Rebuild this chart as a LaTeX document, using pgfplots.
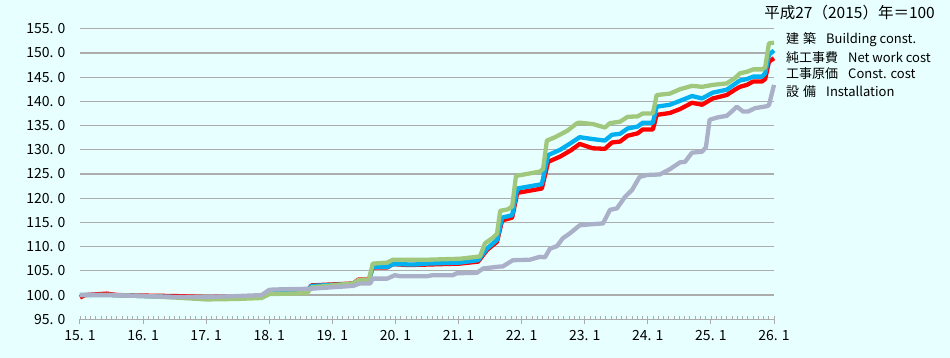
\documentclass[border=0pt]{standalone}
\usepackage{fontspec}
\setmainfont{Noto Sans CJK JP}
\newfontfamily\jpfont{Noto Sans CJK JP}
\usepackage{pgfplots}
\pgfplotsset{compat=1.18}
\definecolor{bgc}{RGB}{232,255,255}
\definecolor{gridc}{RGB}{172,172,172}
\definecolor{cgreen}{RGB}{160,200,125}
\definecolor{cblue}{RGB}{0,176,240}
\definecolor{cred}{RGB}{255,0,0}
\definecolor{cgray}{RGB}{170,176,200}
\begin{document}
\begin{tikzpicture}
\fill[bgc] (0,0) rectangle (950pt,358pt);
\useasboundingbox (0,0) rectangle (950pt,358pt);
\begin{axis}[
  at={(80pt,38.7pt)}, anchor=south west,
  scale only axis, width=694pt, height=290.6pt,
  xmin=15, xmax=26, ymin=95, ymax=155,
  clip=false,
  axis x line*=bottom, axis y line*=left,
  x axis line style={draw=gridc, line width=1.2pt, -},
  y axis line style={draw=none},
  ytick={95,100,...,155},
  yticklabels={95. 0,100. 0,105. 0,110. 0,115. 0,120. 0,125. 0,130. 0,135. 0,140. 0,145. 0,150. 0,155. 0},
  xtick={15,16,...,26},
  xticklabels={15. 1,16. 1,17. 1,18. 1,19. 1,20. 1,21. 1,22. 1,23. 1,24. 1,25. 1,26. 1},
  ymajorgrids, grid style={draw=gridc, line width=1.2pt},
  ytick style={draw=none},
  xtick style={draw=gridc, line width=1pt},
  tick align=outside, major tick length=5pt,
  extra x ticks={15,15.0833333,...,26.01},
  extra x tick labels={},
  extra x tick style={tick align=inside, major tick length=3pt, grid=none, xtick style={draw=gridc, line width=0.8pt}},
  every tick label/.append style={font=\fontsize{14}{14}\selectfont, text=black},
  yticklabel style={xshift=-6pt},
  xticklabel style={yshift=-3pt},
]
\addplot[cred, line width=4.3pt, line join=round] coordinates {
(15.00,99.5) (15.08,100.0) (15.42,100.3) (15.60,100.0) (16.00,99.9) (16.50,99.8) (17.00,99.6) (17.50,99.7) (17.88,99.8) (18.00,100.7) (18.60,100.9) (18.67,102.0)
(19.33,102.4) (19.41,103.2) (19.58,103.2) (19.64,105.7) (19.87,105.7) (19.96,106.4) (20.20,106.2) (20.50,106.3) (21.02,106.5) (21.31,106.9)
(21.45,109.3) (21.61,111.0) (21.69,115.4) (21.85,116.0) (21.93,121.1) (22.32,122.0) (22.42,127.5) (22.61,128.6) (22.77,129.8) (22.92,131.2)
(23.13,130.3) (23.32,130.2) (23.43,131.5) (23.56,131.7) (23.68,132.9) (23.84,133.4) (23.92,134.2) (24.08,134.2) (24.14,137.2) (24.35,137.6)
(24.51,138.4) (24.70,139.7) (24.86,139.3) (25.03,140.6) (25.25,141.3) (25.38,142.4) (25.46,143.0) (25.57,143.4) (25.67,144.1) (25.81,144.1)
(25.86,144.6) (25.92,148.2) (26.00,148.9)
};
\addplot[cblue, line width=4.3pt, line join=round] coordinates {
(15.00,100.0) (15.50,100.0) (16.00,99.8) (16.50,99.6) (17.00,99.5) (17.50,99.6) (17.88,99.8) (18.00,100.7) (18.60,100.8) (18.67,101.9)
(19.33,102.3) (19.41,103.0) (19.58,103.1) (19.64,105.8) (19.87,105.8) (19.96,106.4) (20.30,106.3) (20.50,106.5) (21.02,106.7) (21.31,107.2)
(21.45,109.6) (21.61,111.4) (21.69,116.0) (21.85,116.5) (21.93,122.0) (22.32,122.9) (22.42,128.9) (22.61,130.0) (22.77,131.3) (22.92,132.6)
(23.13,132.2) (23.32,131.9) (23.43,133.1) (23.56,133.3) (23.68,134.4) (23.84,134.8) (23.92,135.6) (24.08,135.6) (24.14,138.9) (24.35,139.3)
(24.51,140.1) (24.70,141.1) (24.86,140.6) (25.03,141.8) (25.25,142.4) (25.38,143.6) (25.46,144.3) (25.57,144.6) (25.67,145.1) (25.81,145.1)
(25.86,145.8) (25.92,149.6) (26.00,150.5)
};
\addplot[cgreen, line width=4.3pt, line join=round] coordinates {
(15.00,100.0) (15.50,100.0) (16.00,99.8) (16.50,99.5) (17.00,99.1) (17.50,99.2) (17.88,99.4) (18.00,100.2) (18.60,100.4) (18.67,101.6)
(19.33,102.4) (19.41,103.1) (19.58,103.2) (19.64,106.5) (19.87,106.7) (19.96,107.3) (20.50,107.3) (21.02,107.5) (21.29,107.9) (21.34,108.0)
(21.42,110.7) (21.55,111.9) (21.61,112.7) (21.66,117.4) (21.78,117.7) (21.85,118.3) (21.91,124.6) (22.29,125.5) (22.34,126.0) (22.40,131.9)
(22.53,132.6) (22.72,133.9) (22.77,134.4) (22.88,135.5) (22.92,135.6) (23.13,135.3) (23.32,134.6) (23.40,135.5) (23.56,135.8) (23.68,136.8)
(23.84,136.9) (23.92,137.5) (24.08,137.5) (24.14,141.3) (24.35,141.6) (24.51,142.5) (24.70,143.2) (24.86,143.0) (25.03,143.4) (25.25,143.7)
(25.38,144.8) (25.46,145.8) (25.57,146.1) (25.67,146.6) (25.81,146.6) (25.86,147.0) (25.92,152.0) (26.00,152.1)
};
\addplot[cgray, line width=4.3pt, line join=round] coordinates {
(15.00,100.0) (15.50,100.0) (16.00,99.8) (16.50,99.6) (17.00,99.6) (17.50,99.8) (17.88,100.0) (18.00,101.1) (18.20,101.2) (18.65,101.3)
(19.33,101.9) (19.44,102.4) (19.60,102.4) (19.64,103.4) (19.87,103.4) (19.99,104.1) (20.07,103.9) (20.50,103.9) (20.59,104.1) (20.91,104.1)
(20.97,104.5) (21.29,104.6) (21.39,105.5) (21.66,105.9) (21.70,105.9) (21.86,107.2) (22.13,107.3) (22.29,107.9) (22.37,107.8) (22.45,109.6)
(22.56,110.1) (22.65,111.7) (22.77,112.8) (22.92,114.4) (23.08,114.6) (23.29,114.8) (23.40,117.6) (23.51,117.9) (23.64,120.3) (23.75,121.7)
(23.87,124.4) (23.99,124.8) (24.19,124.9) (24.35,126.0) (24.51,127.4) (24.59,127.5) (24.70,129.4) (24.86,129.6) (24.92,130.5) (24.98,136.2)
(25.11,136.7) (25.25,137.0) (25.33,137.9) (25.41,138.9) (25.51,137.9) (25.59,137.9) (25.70,138.6) (25.89,139.0) (25.92,139.2) (26.00,143.4)
};
\end{axis}
\begin{scope}[every node/.style={inner sep=0pt, font=\fontsize{13}{13}\selectfont}]
\node[anchor=east, font=\fontsize{15.5}{15.5}\selectfont] at (935pt,345pt) {平成27（2015）年＝100};
\node[anchor=west] at (786pt,318.7pt) {建\hspace{4pt}築\hspace{10pt}Building const.};
\node[anchor=west] at (786pt,300.7pt) {純工事費\hspace{10pt}Net work cost};
\node[anchor=west] at (786pt,284.7pt) {工事原価\hspace{10pt}Const. cost};
\node[anchor=west] at (786pt,266.3pt) {設\hspace{4pt}備\hspace{10pt}Installation};
\end{scope}
\end{tikzpicture}
\end{document}
